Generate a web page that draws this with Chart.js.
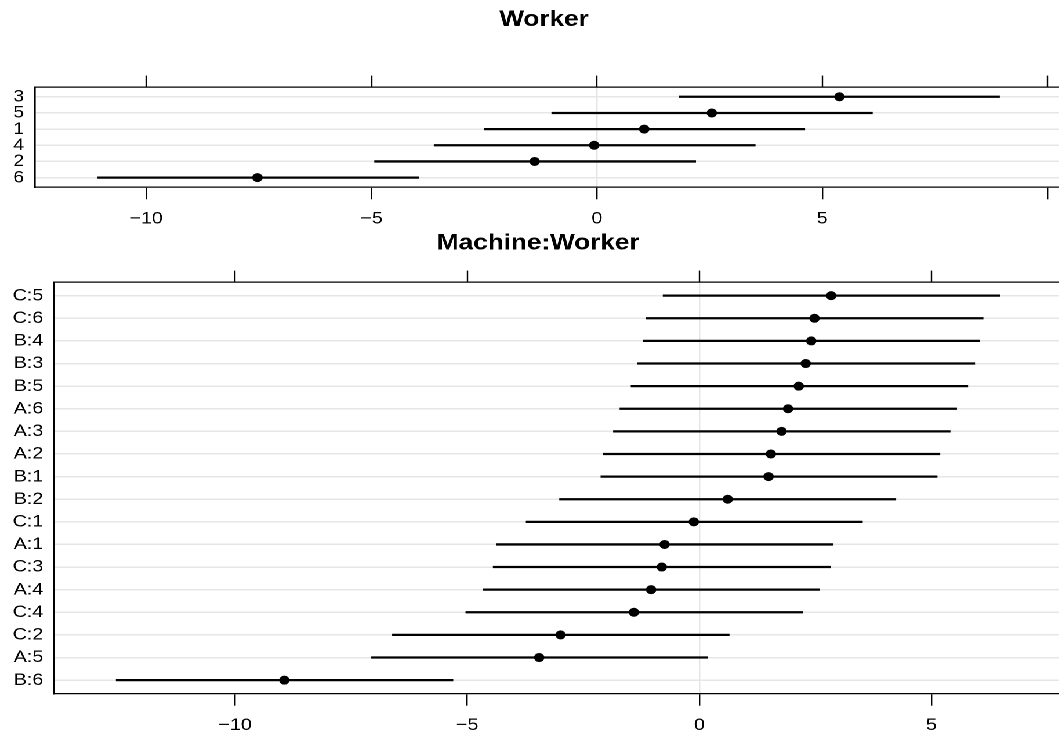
<!DOCTYPE html>
<html>
<head>
<meta charset="utf-8">
<title>Worker / Machine:Worker</title>
<script src="https://cdn.jsdelivr.net/npm/chart.js@4/dist/chart.umd.min.js"></script>
<style>
  html, body { margin: 0; padding: 0; background: #fff; overflow: hidden; width: 1059px; height: 735px; }
  #stage { position: absolute; left: 0; top: 0; width: 940px; height: 735px; transform: scaleX(1.16); transform-origin: 0 0; }
  #stage canvas { position: absolute; left: 0; top: 0; }
</style>
</head>
<body>
<div id="stage">
  <canvas id="worker" width="938" height="240"></canvas>
  <canvas id="machineWorker" width="928" height="735"></canvas>
</div>
<script>
// Worker effects, listed top to bottom
const workerLabels = ['3', '5', '1', '4', '2', '6'];
const workerEst    = [5.38, 2.55, 1.05, -0.06, -1.38, -7.53];
const workerLo     = [1.83, -1.00, -2.50, -3.61, -4.93, -11.07];
const workerHi     = [8.93, 6.11, 4.61, 3.51, 2.19, -3.96];

// Machine:Worker effects, listed top to bottom
const mwLabels = ['C:5', 'C:6', 'B:4', 'B:3', 'B:5', 'A:6', 'A:3', 'A:2', 'B:1',
                  'B:2', 'C:1', 'A:1', 'C:3', 'A:4', 'C:4', 'C:2', 'A:5', 'B:6'];
const mwEst = [2.84, 2.48, 2.41, 2.29, 2.14, 1.91, 1.77, 1.54, 1.49,
               0.61, -0.12, -0.75, -0.81, -1.04, -1.41, -2.99, -3.45, -8.94];
const mwLo  = [-0.78, -1.14, -1.21, -1.33, -1.47, -1.71, -1.85, -2.07, -2.12,
               -3.01, -3.73, -4.37, -4.44, -4.66, -5.03, -6.61, -7.06, -12.56];
const mwHi  = [6.47, 6.11, 6.04, 5.93, 5.78, 5.54, 5.40, 5.18, 5.12,
               4.23, 3.51, 2.88, 2.82, 2.59, 2.23, 0.64, 0.18, -5.31];

// x axis ticks and their labels
const xTicks = [-10, -5, 0, 5, 10];
const workerTickLabels = ['\u221210', '\u22125', '0', '5', ''];
const mwTickLabels     = ['\u221210', '\u22125', '0', '5', '10'];

Chart.defaults.font.family = "'Liberation Sans', Arial, Helvetica, sans-serif";
Chart.defaults.font.size = 17;
Chart.defaults.color = '#000';

function dotplot(canvasId, cfg) {
  const rows = cfg.labels.map((_, i) => i + 1);
  const frame = { display: true, color: '#000', width: 1.3 };
  const setXTicks = s => { s.ticks = xTicks.filter(v => v >= s.min && v <= s.max).map(v => ({ value: v })); };
  return new Chart(document.getElementById(canvasId), {
    type: 'scatter',
    data: {
      datasets: [
        {
          type: 'scatter',
          data: cfg.est.map((v, i) => ({ x: v, y: rows[i] })),
          backgroundColor: '#000', borderColor: '#000',
          pointRadius: 4.5, borderWidth: 0,
          xAxisID: 'x', yAxisID: 'y'
        },
        {
          type: 'bar',
          indexAxis: 'y',
          data: cfg.lo.map((v, i) => ({ x: [v, cfg.hi[i]], y: rows[i] })),
          backgroundColor: '#000', borderWidth: 0,
          barThickness: 1.6,
          xAxisID: 'x', yAxisID: 'y'
        }
      ]
    },
    options: {
      animation: false,
      responsive: false,
      devicePixelRatio: 2,
      events: [],
      layout: { padding: 0 },
      plugins: {
        legend: { display: false },
        tooltip: { enabled: false },
        title: {
          display: true,
          text: cfg.title,
          color: '#000',
          font: { size: 22.5, weight: 'bold' },
          padding: cfg.titlePadding
        }
      },
      scales: {
        x: {
          type: 'linear', position: 'bottom',
          min: cfg.xMin, max: cfg.xMax, bounds: 'data', offset: false,
          afterBuildTicks: setXTicks,
          ticks: {
            callback: v => cfg.tickLabels[xTicks.indexOf(v)],
            padding: 9.5, maxRotation: 0, autoSkip: false
          },
          grid: {
            offset: false,
            color: c => (c.tick && c.tick.value === 0) ? '#e4e4e4' : 'rgba(0,0,0,0)',
            lineWidth: 1.2,
            tickColor: '#000', tickWidth: 1.2, tickLength: 12
          },
          border: frame,
          afterFit: s => { s.height = cfg.bottomAxisHeight; }
        },
        xTop: {
          type: 'linear', position: 'top', axis: 'x',
          min: cfg.xMin, max: cfg.xMax, bounds: 'data', offset: false,
          afterBuildTicks: setXTicks,
          ticks: { display: false },
          grid: {
            offset: false, drawOnChartArea: false,
            color: '#000', tickColor: '#000', tickWidth: 1.2, tickLength: 11.5
          },
          border: frame,
          afterFit: s => { s.height = 11.5; }
        },
        y: {
          type: 'linear', position: 'left', reverse: true,
          min: 0.4, max: cfg.labels.length + 0.6, bounds: 'data', offset: false,
          afterBuildTicks: s => { s.ticks = rows.map(v => ({ value: v })); },
          ticks: {
            callback: v => cfg.labels[v - 1],
            padding: 9.5, autoSkip: false
          },
          grid: { offset: false, color: '#e6e6e6', lineWidth: 1.5, drawTicks: false },
          border: frame,
          afterFit: s => { s.width = cfg.yAxisWidth; }
        }
      }
    }
  });
}

dotplot('worker', {
  title: 'Worker',
  labels: workerLabels, est: workerEst, lo: workerLo, hi: workerHi,
  tickLabels: workerTickLabels,
  xMin: -12.46, xMax: 10.78,
  yAxisWidth: 30.34,
  bottomAxisHeight: 52.7,
  titlePadding: { top: 6.3, bottom: 42.3 }
});

dotplot('machineWorker', {
  title: 'Machine:Worker',
  labels: mwLabels, est: mwEst, lo: mwLo, hi: mwHi,
  tickLabels: mwTickLabels,
  xMin: -13.895, xMax: 8.01,
  yAxisWidth: 46.81,
  bottomAxisHeight: 41.3,
  titlePadding: { top: 229.8, bottom: 13.8 }
});
</script>
</body>
</html>
